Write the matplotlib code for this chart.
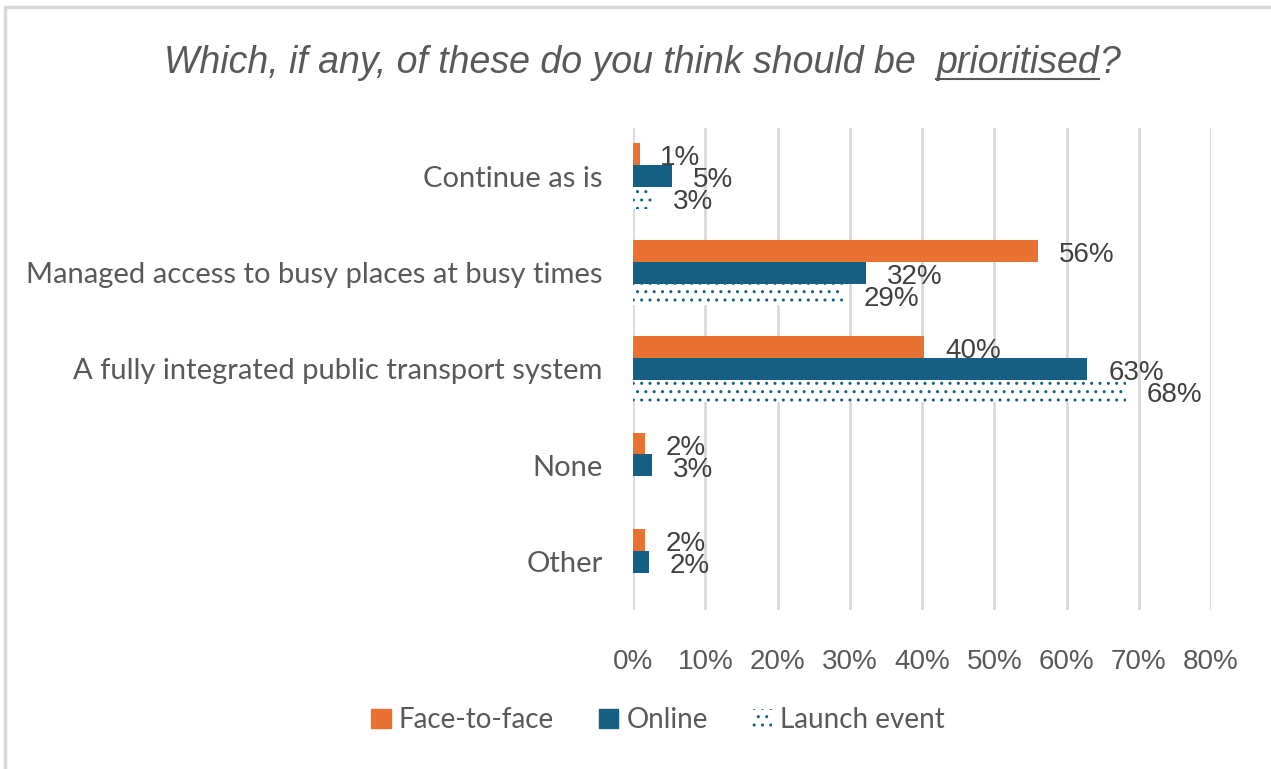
import matplotlib
matplotlib.use("Agg")
import matplotlib.pyplot as plt
from matplotlib.patches import Rectangle
from matplotlib.lines import Line2D

# ---- data (percent) ----
categories = ["Continue as is",
              "Managed access to busy places at busy times",
              "A fully integrated public transport system",
              "None",
              "Other"]
face_to_face = [0.9, 56.1, 40.3, 1.7, 1.6]
online = [5.4, 32.3, 62.9, 2.6, 2.2]
launch_event = [2.6, 29.1, 68.2, 0, 0]
series_names = ["Face-to-face", "Online", "Launch event"]
x_ticks = [0, 10, 20, 30, 40, 50, 60, 70, 80]

ORANGE = "#E97132"
BLUE = "#156082"
GRID = "#D9D9D9"
TXT = "#595959"
LBL = "#404040"

W, H = 1271, 769
fig = plt.figure(figsize=(W / 100, H / 100), dpi=100)
ax = fig.add_axes([633 / W, 1 - 610 / H, 578 / W, 482 / H])

h = 0.227
ys = list(range(len(categories)))
series = [(face_to_face, -h, dict(color=ORANGE)),
          (online, 0.0, dict(color=BLUE)),
          (launch_event, h, dict(facecolor="white", edgecolor=BLUE, hatch="..", linewidth=0))]

for vals, off, style in series:
    pos = [y + off for y in ys]
    ax.barh(pos, vals, height=h, zorder=2, **style)
    for p, v in zip(pos, vals):
        if v <= 0:
            continue
        ax.annotate(f"{v:.0f}%", xy=(v, p), xytext=(15, -3), textcoords="offset points",
                    ha="left", va="center", fontsize=20, color=LBL,
                    family="Liberation Sans", zorder=3)

ax.set_ylim(-0.5, len(categories) - 0.5)
ax.invert_yaxis()
ax.set_xlim(0, 80)
ax.set_xticks(x_ticks)
ax.set_xticklabels([f"{t}%" for t in x_ticks], fontsize=20, color=TXT, family="Liberation Sans")
ax.set_yticks(ys)
ax.set_yticklabels(categories, fontsize=21, color=TXT, family="Lato")
ax.tick_params(length=0)
ax.tick_params(axis="x", pad=28)
ax.tick_params(axis="y", pad=22)
ax.grid(axis="x", color=GRID, linewidth=2, zorder=0)
ax.set_axisbelow(True)
for s in ax.spines.values():
    s.set_visible(False)

# ---- title with underlined word ----
parts = ["Which, if any, of these do you think should be  ", "prioritised", "?"]
fig.canvas.draw()
r = fig.canvas.get_renderer()
texts = []
for p in parts:
    t = fig.text(0, 1 - 73 / H, p, fontsize=27, style="italic", color=TXT,
                 family="Liberation Sans", ha="left", va="baseline")
    texts.append(t)
widths = [t.get_window_extent(r).width for t in texts]
total = sum(widths)
start = 642 - total / 2
cur = start
for t, w in zip(texts, widths):
    t.set_x(cur / W)
    cur += w
ul_x0 = (start + widths[0]) / W
ul_x1 = (start + widths[0] + widths[1]) / W
fig.add_artist(Line2D([ul_x0, ul_x1], [1 - 79 / H, 1 - 79 / H], color=TXT, linewidth=1.5,
                      transform=fig.transFigure))

# ---- legend ----
handles = [Rectangle((0, 0), 1, 1, color=ORANGE),
           Rectangle((0, 0), 1, 1, color=BLUE),
           Rectangle((0, 0), 1, 1, facecolor="white", edgecolor=BLUE, hatch="..", linewidth=0)]
leg = fig.legend(handles, series_names, loc="center", bbox_to_anchor=(658 / W, 1 - 720 / H),
                 ncol=3, frameon=False, handlelength=0.7, handleheight=0.7,
                 handletextpad=0.3, columnspacing=1.6,
                 prop={"family": "Lato", "size": 20})
for t in leg.get_texts():
    t.set_color(TXT)

# chart border (only top/left visible in the crop)
fig.add_artist(Line2D([5 / W, 5 / W, 1.0], [0.0, 1 - 7 / H, 1 - 7 / H], color=GRID,
                      linewidth=2.5, transform=fig.transFigure))

fig.savefig("out.png", dpi=100)
